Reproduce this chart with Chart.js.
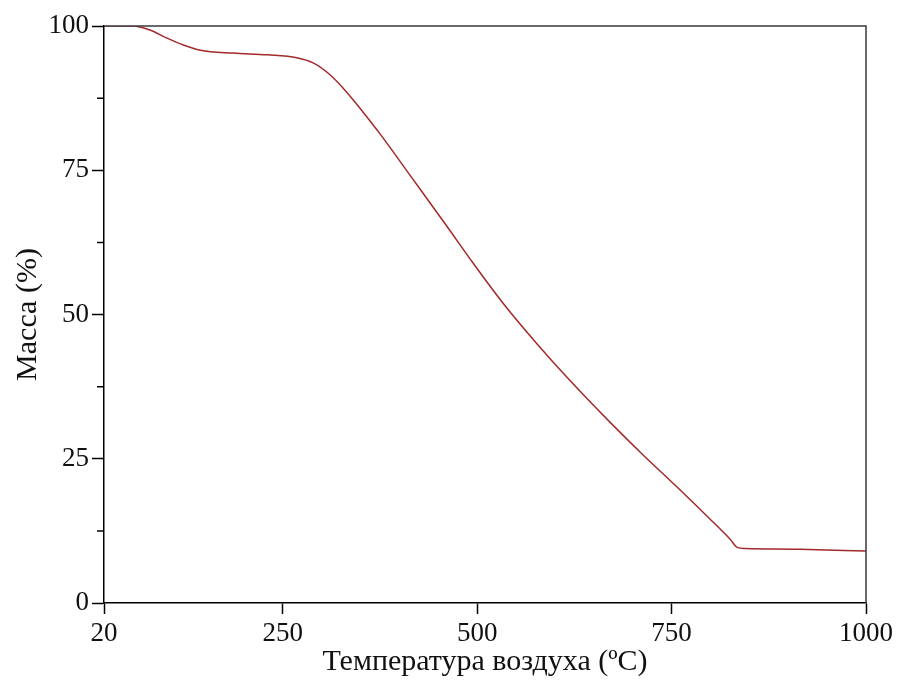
<!DOCTYPE html>
<html>
<head>
<meta charset="utf-8">
<script src="https://cdn.jsdelivr.net/npm/chart.js@4/dist/chart.umd.min.js"></script>
<style>
  html, body { margin: 0; padding: 0; background: #fff; }
  #wrap { width: 897px; height: 683px; }
</style>
</head>
<body>
<div id="wrap"><canvas id="chart" width="897" height="683"></canvas></div>
<script>
// TGA curve
const temps = [20, 57, 79, 101, 122, 144, 186, 230, 268, 289, 311, 333, 353, 375,
    417, 461, 491, 533, 577, 619, 671, 713, 757, 799, 825, 835, 845, 915, 1000];
const mass = [100, 100, 99.3, 97.9, 96.7, 95.8, 95.3, 95.0, 94.5, 93.6, 91.5, 88.4, 85.1, 81.3,
    73.5, 65.3, 59.6, 52.0, 44.9, 38.6, 31.3, 25.7, 20.1, 14.6, 11.1, 9.6, 9.45, 9.3, 9.0];

const xTicks = [20, 250, 500, 750, 1000];
const yMinorTicks = [12.5, 37.5, 62.5, 87.5];

const serif = "'Liberation Serif', 'Times New Roman', serif";

// box on top/right and short minor ticks on the y axis
const framePlugin = {
    id: 'frame',
    afterDraw: (chart) => {
        const { ctx, chartArea: a, scales: { y } } = chart;
        ctx.save();
        ctx.lineWidth = 1.5;
        ctx.strokeStyle = '#3a3a3a';
        ctx.beginPath();
        ctx.moveTo(a.left, a.top);
        ctx.lineTo(a.right, a.top);
        ctx.lineTo(a.right, a.bottom);
        ctx.stroke();
        ctx.strokeStyle = '#000';
        ctx.beginPath();
        yMinorTicks.forEach(v => {
            const py = y.getPixelForValue(v);
            ctx.moveTo(a.left - 7, py);
            ctx.lineTo(a.left, py);
        });
        ctx.stroke();
        ctx.restore();
    }
};

new Chart(document.getElementById('chart').getContext('2d'), {
    type: 'line',
    data: {
        datasets: [{
            data: temps.map((t, i) => ({ x: t, y: mass[i] })),
            borderColor: '#a3292b',
            borderWidth: 1.5,
            pointRadius: 0,
            cubicInterpolationMode: 'monotone',
            fill: false
        }]
    },
    options: {
        responsive: false,
        animation: false,
        layout: { padding: { top: 26, right: 31, left: 0, bottom: 0 } },
        plugins: {
            legend: { display: false },
            tooltip: { enabled: false }
        },
        scales: {
            x: {
                type: 'linear',
                min: 20,
                max: 1000,
                afterBuildTicks: (s) => { s.ticks = xTicks.map(v => ({ value: v })); },
                afterFit: (s) => { s.height = 80; },
                grid: { drawOnChartArea: false, tickLength: 11, color: '#000', tickWidth: 1.5 },
                border: { color: '#000', width: 1.5 },
                ticks: {
                    color: '#111',
                    padding: 4,
                    maxRotation: 0,
                    autoSkip: false,
                    callback: (v) => String(v),
                    font: { family: serif, size: 27 }
                },
                title: {
                    display: true,
                    text: 'Температура воздуха (ºC)',
                    color: '#111',
                    padding: { top: 0, bottom: 3 },
                    font: { family: serif, size: 30 }
                }
            },
            y: {
                min: 0,
                max: 100,
                afterFit: (s) => { s.width = 104; },
                grid: { drawOnChartArea: false, tickLength: 12, color: '#000', tickWidth: 1.5 },
                border: { color: '#000', width: 1.5 },
                ticks: {
                    stepSize: 25,
                    color: '#111',
                    padding: 3,
                    callback: (v) => String(v),
                    font: { family: serif, size: 27 }
                },
                title: {
                    display: true,
                    text: 'Масса (%)',
                    color: '#111',
                    padding: { top: 10, bottom: 0 },
                    font: { family: serif, size: 30 }
                }
            }
        }
    },
    plugins: [framePlugin]
});
</script>
</body>
</html>
